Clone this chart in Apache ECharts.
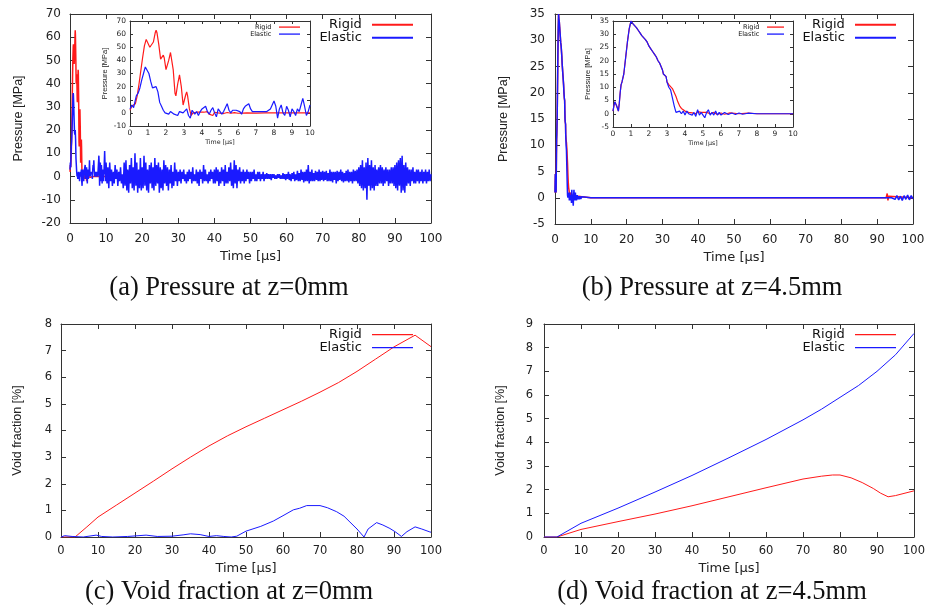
<!DOCTYPE html>
<html><head><meta charset="utf-8">
<script src="https://cdn.jsdelivr.net/npm/echarts@6/dist/echarts.min.js"></script>
<style>html,body{margin:0;padding:0;background:#fff}#c{width:931px;height:607px}</style>
</head><body><div id="c"></div>
<script>
// ---------- DATA ----------
const seriesNames = ['Rigid', 'Elastic'];
const captions = ['(a) Pressure at z=0mm', '(b) Pressure at z=4.5mm', '(c) Void fraction at z=0mm', '(d) Void fraction at z=4.5mm'];

// (a) z=0mm, first 10 µs (inset) [time µs, pressure MPa]
const aEarlyRigid = [[0,2],[0.1,5],[0.2,4],[0.3,7],[0.4,13],[0.5,22],[0.6,32],[0.7,42],[0.8,51],[0.9,56],[0.95,57],[1.0,55],[1.1,50],[1.15,48.5],[1.2,49],[1.3,54],[1.4,61],[1.45,63],[1.5,61],[1.6,52],[1.7,41],[1.75,40],[1.85,44],[1.9,42],[2.0,33],[2.05,32],[2.15,40],[2.25,46],[2.3,45],[2.4,33],[2.5,15],[2.55,13],[2.65,22],[2.75,29],[2.85,20],[2.95,6],[3.0,7],[3.1,14],[3.15,16],[3.2,13],[3.3,3],[3.4,-2],[3.5,0],[3.6,-1],[3.7,0.5],[3.8,-1],[3.9,0.5],[4.0,-1],[4.1,0.5],[4.2,-0.5],[4.3,1],[4.4,-1],[4.5,0.5],[4.6,-2],[4.7,0.5],[4.8,-1],[4.9,0],[5.0,0.5],[5.2,-0.5],[5.4,0.3],[5.6,-0.3],[5.8,0.2],[6.0,-0.3],[6.5,0],[7,-0.2],[7.5,0],[8,0],[9,0],[10,0]];
const aEarlyElastic = [[0,3],[0.1,6],[0.2,4],[0.25,4],[0.35,13],[0.45,15],[0.55,19],[0.65,25],[0.75,30],[0.85,35],[0.9,36],[0.95,35],[1.05,30],[1.15,24],[1.25,19],[1.35,18],[1.45,20],[1.55,16],[1.65,8],[1.75,5],[1.85,2],[1.95,0],[2.05,1.5],[2.15,-1],[2.25,1],[2.35,2],[2.45,-1],[2.55,0],[2.65,-2],[2.75,1],[2.85,2],[2.95,0],[3.05,1],[3.15,3],[3.25,-2],[3.35,-4],[3.45,2],[3.55,3],[3.6,-1],[3.7,1],[3.8,-2],[3.9,1],[4.0,3],[4.1,4],[4.2,5],[4.3,1],[4.4,-1],[4.5,2],[4.6,4],[4.7,0],[4.8,-3],[4.9,3],[5.0,2],[5.1,-1],[5.2,1],[5.3,2],[5.4,7],[5.5,2],[5.6,0],[5.7,2],[5.8,1],[5.9,2],[6.0,2],[6.1,1],[6.2,-1],[6.3,3],[6.4,5],[6.5,4],[6.6,7],[6.7,3],[6.8,1],[6.9,0],[7.0,1],[7.1,2],[7.2,1],[7.3,0],[7.4,1],[7.5,2],[7.6,1],[7.7,0],[7.8,3],[7.9,6],[8.0,9],[8.1,5],[8.2,-4],[8.3,3],[8.4,6],[8.5,0],[8.6,-2],[8.7,5],[8.8,2],[8.9,-3],[9.0,3],[9.1,1],[9.2,-2],[9.3,3],[9.4,1],[9.5,6],[9.6,11],[9.7,5],[9.8,-2],[9.9,1],[10,6]];
// (a) later part, Elastic sampled every 0.25 µs from 10.25 µs to 100 µs
const aLateStart = 10.25, aLateStep = 0.25;
const aLateElastic = [
  -3,4,-5,6,-2,3,-4,2,-3,5, -1,3,-4,2,-2,4,-3,1,-5,6, -4,7,-6,3,-7,5,-3,8,-5,4, -6,10,-4,6,-7,3,-5,8,-6,4,
  -5,9,-4,6,-6,3,-7,5,-3,6, -5,4,-6,8,-4,5,-3,6,-7,4, -5,3,-6,7,-3,5,-4,4,-6,3, -3,5,-5,2,-4,6,-2,3,-4,2,
  -2,3,-3,2,-1,3,-2,1,-3,2, -2,3,-1,2,-3,4,-2,1,-2,3, -3,2,-4,3,-1,2,-3,5,-2,3, -2,1,-3,2,-2,3,-1,2,-3,3,
  -3,4,-2,3,-4,2,-3,4,-2,3, -4,5,-3,2,-3,4,-2,6,-4,3, -5,7,-3,5,-5,3,-2,4,-3,2, -2,3,-3,2,-2,3,-1,2,-3,2,
  -2,2,-1,3,-2,1,-2,2,-1,2, -2,1,-1,2,-2,1,-1,1.5,-1,1, -1,1,-1.5,1,-0.5,1,-1,0.5,-1,1, -0.5,1,-1,0.5,-1,1.5,-1,1,-1.5,1,
  -1,2,-1.5,1,-2,1.5,-1,2,-2,1, -1.5,2.5,-2,1.5,-2,3,-1.5,2,-2.5,2, -2,3,-2,5,-3,2,-2,3,-2,1.5, -2,2.5,-1.5,2,-2,3,-2,2,-1.5,2.5,
  -2,2,-1.5,2.5,-2,1.5,-2,3,-2,2, -2.5,2,-1.5,2,-3,2.5,-2,2,-1.5,3, -2,2,-2.5,1.5,-2,2.5,-2,3,-2.5,2, -2,2,-3,3,-2,2.5,-2,3,-3,4,
  -4,5,-5,7,-6,4,-5,6,-10,8, -4,5,-6,7,-5,4,-6,5,-4,3, -4,4,-3,5,-3,4,-4,3,-3,4, -2,3,-4,3,-3,4,-3,4,-4,5,
  -5,6,-6,7,-4,8,-7,9,-6,5, -7,6,-4,4,-3,3,-4,3,-2,4, -3,2,-3,3,-2,3,-3,2,-2,3, -3,2,-2,3,-3,2,-2,3,-2,1
];
const aLateRigid = [[10,0],[100,0]];

// (b) z=4.5mm, first 10 µs (inset)
const bEarlyCommon = [[0,1],[0.05,3],[0.1,4.5],[0.15,4.5],[0.2,3],[0.3,1],[0.35,4],[0.4,8],[0.45,11],[0.5,12],[0.55,12],[0.6,15],[0.7,21],[0.8,27],[0.9,32],[1.0,35],[1.05,34.5],[1.1,34],[1.2,33.5],[1.3,32.5],[1.4,31.5],[1.5,30.5],[1.6,29.5],[1.7,29],[1.8,28],[1.9,27],[2.0,25.5],[2.1,24.5],[2.2,23.5],[2.3,22.5],[2.4,21.5],[2.5,20],[2.6,19],[2.7,18.5],[2.75,16.5],[2.8,15],[2.85,14.5],[2.95,14],[3.0,12]];
const bEarlyRigidTail = [[3.1,11],[3.2,10.5],[3.3,9.5],[3.4,8],[3.5,6.5],[3.6,4.5],[3.7,3],[3.8,2],[3.9,1.5],[4.0,1],[4.1,1],[4.2,0.5],[4.3,1],[4.4,0.3],[4.5,0.8],[4.6,0],[4.7,0.8],[4.8,0.3],[4.9,0.5],[5.0,0],[5.2,0.5],[5.4,0],[5.6,0.5],[5.8,-0.3],[6.0,0.3],[6.2,-0.2],[6.5,0.3],[7.0,0],[7.5,0.2],[8,0],[10,0]];
const bEarlyElasticTail = [[3.1,10],[3.2,9],[3.3,6],[3.4,3],[3.5,0.5],[3.6,0],[3.7,1],[3.8,0],[3.9,1],[4.0,-0.5],[4.1,1],[4.2,0],[4.3,0.5],[4.4,-0.5],[4.5,0.5],[4.6,-1],[4.7,1.5],[4.8,-0.5],[4.9,0.5],[5.0,-0.5],[5.1,-1.5],[5.2,0.5],[5.3,1.5],[5.4,-0.5],[5.5,0.5],[5.6,-0.5],[5.7,1],[5.8,-0.5],[5.9,0.5],[6.0,-0.5],[6.2,0.5],[6.4,-0.3],[6.6,0.3],[6.8,-0.3],[7.0,0.3],[7.2,-0.2],[7.5,0.2],[8,0],[10,0]];
const bLateRigid = [[10,0],[92.5,0],[92.8,0.8],[93,-0.5],[93.2,0.3],[93.5,0],[100,0]];
const bLateElastic = [[10,0],[94,0],[94.5,0.2],[95,-0.3],[95.5,0.4],[96,-0.4],[96.5,0.3],[97,-0.5],[97.5,0.4],[98,-0.3],[98.5,0.5],[99,-0.4],[99.5,0.4],[100,-0.2]];

// (c) void fraction z=0mm [time µs, %]
const cRigid = [[0,0],[3.8,0],[7,0.38],[10,0.75],[15,1.2],[20,1.65],[25,2.1],[30,2.56],[35,3.0],[40,3.42],[45,3.8],[50,4.14],[55,4.46],[60,4.78],[65,5.1],[70,5.44],[75,5.8],[80,6.22],[85,6.68],[90,7.14],[95.7,7.58],[100,7.15]];
const cElastic = [[0,0],[1,0.05],[3,0.02],[6,0],[9.5,0.07],[11,0.02],[14,0],[18,0.02],[23,0.07],[26,0.02],[30,0.03],[33,0.08],[35,0.12],[37.6,0.09],[40,0.02],[42,0.05],[44,0.02],[46,0],[47.5,0.03],[50,0.22],[54,0.4],[57.4,0.6],[60,0.8],[62.8,1.02],[64.5,1.08],[66.4,1.18],[70,1.18],[72,1.1],[74.5,0.95],[76.5,0.78],[78.1,0.56],[80,0.3],[81.9,0],[83,0.3],[85.3,0.54],[87,0.45],[88.9,0.32],[90.5,0.18],[92,0.02],[93.5,0.2],[95.7,0.38],[97.5,0.3],[99.7,0.19],[100,0.18]];

// (d) void fraction z=4.5mm
const dRigid = [[0,0],[3.5,0],[10,0.32],[20,0.65],[30,0.97],[40,1.32],[50,1.7],[60,2.08],[70,2.45],[75,2.57],[78,2.62],[80,2.62],[83,2.5],[86,2.3],[89,2.05],[91,1.85],[93,1.7],[95,1.75],[100,1.95]];
const dElastic = [[0,0],[3.5,0],[10,0.58],[20,1.22],[30,1.9],[40,2.6],[50,3.35],[60,4.12],[70,4.95],[75,5.4],[80,5.9],[85,6.4],[90,7.0],[95,7.7],[100,8.6]];

// ---------- BUILD ----------
const RED = '#ff1a1a', BLUE = '#1a1aff';
const HFONT = 'DejaVu Sans, sans-serif';
const VFONT = 'Liberation Sans, Arial, sans-serif';
const aLate = aLateElastic.map((v, i) => [aLateStart + i * aLateStep, v]);
const aRigidFull = aEarlyRigid.concat(aLateRigid);
const aElasticFull = aEarlyElastic.concat(aLate);
const bRigidEarly = bEarlyCommon.concat(bEarlyRigidTail);
const bElasticEarly = bEarlyCommon.concat(bEarlyElasticTail);
const bRigidFull = bRigidEarly.concat(bLateRigid);
const bElasticFull = bElasticEarly.concat(bLateElastic);

const panels = [
  {grid:{left:70, top:14, width:361, height:209}, x:[0,100,10], y:[-20,70,10], fs:12, xn:13, yn:12.5, tick:5, lm:[9,10], names:['Time [µs]','Pressure [MPa]'], ng:[27,45], lw:1.5,
   data:[aRigidFull, aElasticFull], leg:{right:518, c:[23,36], w:41, fs:13, lw:2}},
  {grid:{left:130, top:21, width:180, height:105}, x:[0,10,1], y:[-10,70,10], fs:7.5, xn:6.3, yn:7.5, tick:3, lm:[4,3], names:['Time [µs]','Pressure [MPa]'], ng:[13,21], lw:1.2,
   data:[aEarlyRigid, aEarlyElastic], leg:{right:631, c:[26,33], w:21, fs:6.5, lw:1.3}},
  {grid:{left:555, top:14, width:358, height:210}, x:[0,100,10], y:[-5,35,5], fs:12, xn:13, yn:12.5, tick:5, lm:[10,10], names:['Time [µs]','Pressure [MPa]'], ng:[27,45], lw:1.5,
   data:[bRigidFull, bElasticFull], leg:{right:35, c:[23,36], w:41, fs:13, lw:2}},
  {grid:{left:613, top:21, width:180, height:106}, x:[0,10,1], y:[-5,35,5], fs:7.5, xn:6.3, yn:7.5, tick:3, lm:[4,3], names:['Time [µs]','Pressure [MPa]'], ng:[13,21], lw:1.2,
   data:[bRigidEarly, bElasticEarly], leg:{right:147, c:[26,33], w:17, fs:6.5, lw:1.3}},
  {grid:{left:61, top:324, width:370, height:213}, x:[0,100,10], y:[0,8,1], fs:11.5, xn:13, yn:12.5, tick:5, lm:[9,8], names:['Time [µs]','Void fraction [%]'], ng:[25,37], lw:1,
   data:[cRigid, cElastic], leg:{right:518, c:[333,346], w:41, fs:13, lw:1.2}},
  {grid:{left:544, top:324, width:370, height:213}, x:[0,100,10], y:[0,9,1], fs:11.5, xn:13, yn:12.5, tick:5, lm:[11,8], names:['Time [µs]','Void fraction [%]'], ng:[25,37], lw:1,
   data:[dRigid, dElastic], leg:{right:35, c:[333,346], w:41, fs:13, lw:1.2}}
];

const grids = [], xAxes = [], yAxes = [], series = [], legends = [];
const axisLine = {show:true, onZero:false, lineStyle:{color:'#333', width:1}};
panels.forEach((p, gi) => {
  grids.push(Object.assign({containLabel:false, outerBoundsMode:'none', show:true, backgroundColor:'#fff', borderWidth:0}, p.grid));
  const base = (mm, tl) => ({gridIndex:gi, type:'value', min:mm[0], max:mm[1], interval:mm[2], splitLine:{show:false}, axisLine, axisTick:{inside:true, length:tl, lineStyle:{color:'#333'}}});
  xAxes.push(Object.assign(base(p.x, p.tick), {position:'bottom',
    axisLabel:{fontSize:p.fs, fontFamily:HFONT, color:'#222', margin:p.lm[1]},
    name:p.names[0], nameLocation:'middle', nameGap:p.ng[0], nameTextStyle:{fontSize:p.xn, fontFamily:HFONT, color:'#222'}}));
  xAxes.push(Object.assign(base(p.x, p.tick), {position:'top', axisLabel:{show:false}}));
  yAxes.push(Object.assign(base(p.y, p.tick), {position:'left',
    axisLabel:{fontSize:p.fs, fontFamily:HFONT, color:'#222', margin:p.lm[0]},
    name:p.names[1], nameLocation:'middle', nameGap:p.ng[1], nameTextStyle:{fontSize:p.yn, fontFamily:VFONT, color:'#222'}}));
  yAxes.push(Object.assign(base(p.y, p.tick), {position:'right', axisLabel:{show:false}}));
  [RED, BLUE].forEach((col, si) => {
    series.push({type:'line', name:seriesNames[si], xAxisIndex:gi*2, yAxisIndex:gi*2, data:p.data[si],
      showSymbol:false, symbol:'none', lineStyle:{color:col, width:p.lw}, itemStyle:{color:col}, z:3+si, animation:false});
    legends.push({data:[{name:seriesNames[si], icon:'rect', itemStyle:{color:col}}],
      orient:'vertical', align:'right', right:p.leg.right, top:p.leg.c[si] - p.leg.fs*0.37, padding:0,
      itemWidth:p.leg.w, itemHeight:p.leg.lw, selectedMode:false,
      textStyle:{fontSize:p.leg.fs, fontFamily:HFONT, color:'#111', padding:[0, p.leg.fs*0.4, 0, 0]}});
  });
});

const capPos = [[229,275],[712,275],[229,579],[712,579]];
const titles = captions.map((t, i) => ({text:t, left:capPos[i][0], top:capPos[i][1], textAlign:'center', padding:0,
  textStyle:{fontFamily:'Liberation Serif, Times New Roman, serif', fontWeight:'normal', fontSize:26.5, color:'#111'}}));

const chart = echarts.init(document.getElementById('c'), null, {renderer:'canvas'});
chart.setOption({backgroundColor:'#fff', animation:false, title:titles, legend:legends, grid:grids, xAxis:xAxes, yAxis:yAxes, series:series});
</script></body></html>
